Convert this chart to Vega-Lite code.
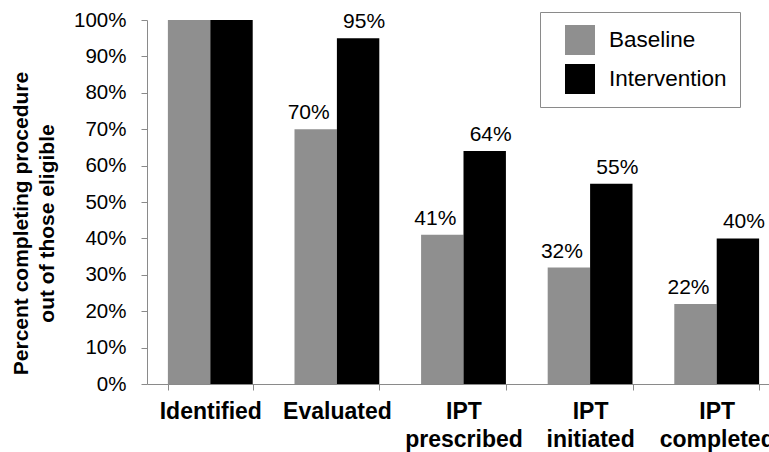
{
  "$schema": "https://vega.github.io/schema/vega-lite/v6.json",
  "autosize": {"type": "none"},
  "width": 622,
  "height": 364,
  "padding": {"left": 147, "top": 20, "right": 0, "bottom": 68},
  "background": "white",
  "config": {
    "view": {"stroke": null},
    "font": "Liberation Sans",
    "axis": {"grid": false, "domainColor": "#8a8a8a", "tickColor": "#8a8a8a", "labelColor": "#000", "titleColor": "#000"}
  },
  "data": {
    "values": [
      {"step": "Identified", "group": "Baseline", "value": 100, "label": ""},
      {"step": "Identified", "group": "Intervention", "value": 100, "label": ""},
      {"step": "Evaluated", "group": "Baseline", "value": 70, "label": "70%"},
      {"step": "Evaluated", "group": "Intervention", "value": 95, "label": "95%"},
      {"step": "IPT prescribed", "group": "Baseline", "value": 41, "label": "41%"},
      {"step": "IPT prescribed", "group": "Intervention", "value": 64, "label": "64%"},
      {"step": "IPT initiated", "group": "Baseline", "value": 32, "label": "32%"},
      {"step": "IPT initiated", "group": "Intervention", "value": 55, "label": "55%"},
      {"step": "IPT completed", "group": "Baseline", "value": 22, "label": "22%"},
      {"step": "IPT completed", "group": "Intervention", "value": 40, "label": "40%"}
    ]
  },
  "encoding": {
    "x": {
      "field": "step", "type": "nominal", "sort": null,
      "scale": {"range": [0, 633], "paddingInner": 0.33, "paddingOuter": 0.165},
      "axis": {
        "title": null, "labelAngle": 0, "labelFontSize": 23, "labelFontWeight": "bold",
        "labelExpr": "split(datum.label, ' ')", "labelLineHeight": 28, "labelPadding": 10,
        "tickBand": "extent", "tickSize": 6, "labelBaseline": "top"
      }
    },
    "xOffset": {"field": "group", "type": "nominal", "sort": ["Baseline", "Intervention"]},
    "y": {
      "field": "value", "type": "quantitative",
      "scale": {"domain": [0, 100], "nice": false},
      "axis": {
        "values": [0, 10, 20, 30, 40, 50, 60, 70, 80, 90, 100],
        "labelExpr": "datum.value + '%'",
        "labelFontSize": 20.5, "labelPadding": 15, "tickSize": 6,
        "title": ["Percent completing procedure", "out of those eligible"],
        "titleFontSize": 21, "titleFontWeight": "bold", "titleLineHeight": 26, "titlePadding": 16,
        "titleY": 203
      }
    }
  },
  "layer": [
    {
      "mark": {"type": "bar"},
      "encoding": {
        "color": {
          "field": "group", "type": "nominal",
          "scale": {"domain": ["Baseline", "Intervention"], "range": ["#8f8f8f", "#000000"]},
          "legend": {
            "title": null, "orient": "none", "legendX": 393, "legendY": -8,
            "symbolType": "square", "symbolSize": 900, "symbolStrokeWidth": 0,
            "labelFontSize": 22.5, "labelOffset": 14, "rowPadding": 9,
            "padding": 13, "symbolOffset": 12,
            "strokeColor": "#8a8a8a", "fillColor": "white"
          }
        }
      }
    },
    {
      "transform": [{"filter": "datum.group === 'Baseline'"}],
      "mark": {"type": "text", "baseline": "alphabetic", "dy": -10, "dx": -7, "fontSize": 21, "color": "#000"},
      "encoding": {"text": {"field": "label"}}
    },
    {
      "transform": [{"filter": "datum.group === 'Intervention'"}],
      "mark": {"type": "text", "baseline": "alphabetic", "dy": -10, "dx": 6, "fontSize": 21, "color": "#000"},
      "encoding": {"text": {"field": "label"}}
    }
  ]
}
